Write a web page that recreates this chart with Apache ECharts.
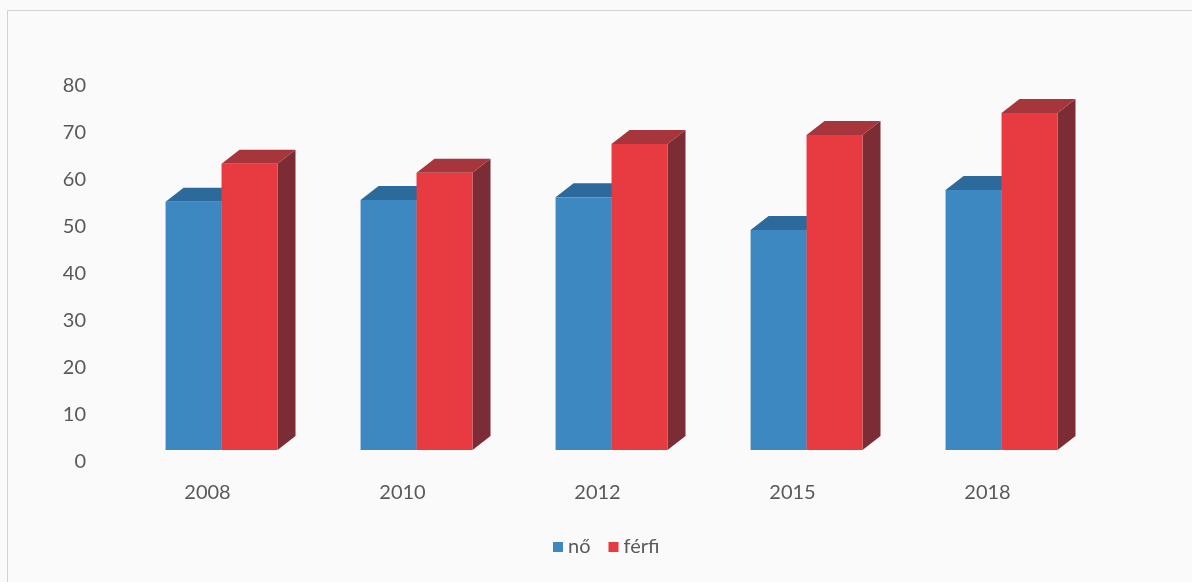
<!DOCTYPE html>
<html>
<head>
<meta charset="utf-8">
<script src="https://cdn.jsdelivr.net/npm/echarts@6/dist/echarts.min.js"></script>
<style>
  html, body { margin: 0; padding: 0; background: #fafafa; }
  #main { width: 1192px; height: 582px; }
</style>
</head>
<body>
<div id="main"></div>
<script>
// 數據
const years = ['2008', '2010', '2012', '2015', '2018'];
const noValues = [52.8, 53.2, 53.8, 46.8, 55.3];
const ferfiValues = [60.9, 59.0, 65.1, 67.0, 71.7];
const yTicks = [0, 10, 20, 30, 40, 50, 60, 70, 80];

const myChart = echarts.init(document.getElementById('main'));

// 立體柱子：正面 + 頂面 + 側面
function make3dBar(side, front, top, right) {
    return function (params, api) {
        const c = api.coord([api.value(0), api.value(1)]);
        const base = api.coord([api.value(0), 0]);
        const band = api.size([1, 0])[0];
        const w = band * 0.287;
        const shift = band * 0.072;
        const dx = 18, dy = 14;
        const x0 = side === 0 ? c[0] + shift - w : c[0] + shift;
        const x1 = x0 + w;
        const yt = c[1], yb = base[1];
        return {
            type: 'group',
            children: [
                {
                    type: 'polygon',
                    shape: { points: [[x1, yt], [x1 + dx, yt - dy], [x1 + dx, yb - dy], [x1, yb]] },
                    style: { fill: right }
                },
                {
                    type: 'polygon',
                    shape: { points: [[x0, yt], [x0 + dx, yt - dy], [x1 + dx, yt - dy], [x1, yt]] },
                    style: { fill: top }
                },
                {
                    type: 'rect',
                    shape: { x: x0, y: yt, width: w, height: yb - yt },
                    style: { fill: front }
                }
            ]
        };
    };
}

const option = {
    backgroundColor: '#fafafa',
    textStyle: { fontFamily: 'Lato, "Open Sans", sans-serif' },
    graphic: [{
        type: 'rect',
        shape: { x: 7.5, y: 10.5, width: 1200, height: 600 },
        style: { fill: 'none', stroke: '#d2d2d2', lineWidth: 1 },
        silent: true
    }],
    grid: { left: 110, right: 107, top: 74, bottom: 132 },
    legend: {
        bottom: 20,
        left: 548,
        itemWidth: 10,
        itemGap: 18,
        itemHeight: 10,
        textStyle: { color: '#595959', fontSize: 20 },
        data: [
            { name: 'nő', icon: 'rect', itemStyle: { color: '#3d88c1' } },
            { name: 'férfi', icon: 'rect', itemStyle: { color: '#e73b41' } }
        ]
    },
    xAxis: {
        type: 'category',
        data: years,
        axisLine: { show: false },
        axisTick: { show: false },
        axisLabel: { color: '#595959', fontSize: 20, margin: 33 }
    },
    yAxis: {
        type: 'value',
        min: yTicks[0],
        max: yTicks[yTicks.length - 1],
        interval: 10,
        axisLine: { show: false },
        axisTick: { show: false },
        splitLine: { show: false },
        axisLabel: {
            color: '#595959', fontSize: 20, margin: 24,
            verticalAlign: 'top', lineHeight: 24
        }
    },
    series: [
        {
            name: 'nő',
            type: 'custom',
            renderItem: make3dBar(0, '#3d88c1', '#2c6a9c', '#2a5f8a'),
            encode: { x: 0, y: 1 },
            itemStyle: { color: '#3d88c1' },
            data: years.map((y, i) => [i, noValues[i]])
        },
        {
            name: 'férfi',
            type: 'custom',
            renderItem: make3dBar(1, '#e73b41', '#a6353c', '#7b2c34'),
            encode: { x: 0, y: 1 },
            itemStyle: { color: '#e73b41' },
            data: years.map((y, i) => [i, ferfiValues[i]])
        }
    ]
};

myChart.setOption(option);
</script>
</body>
</html>
